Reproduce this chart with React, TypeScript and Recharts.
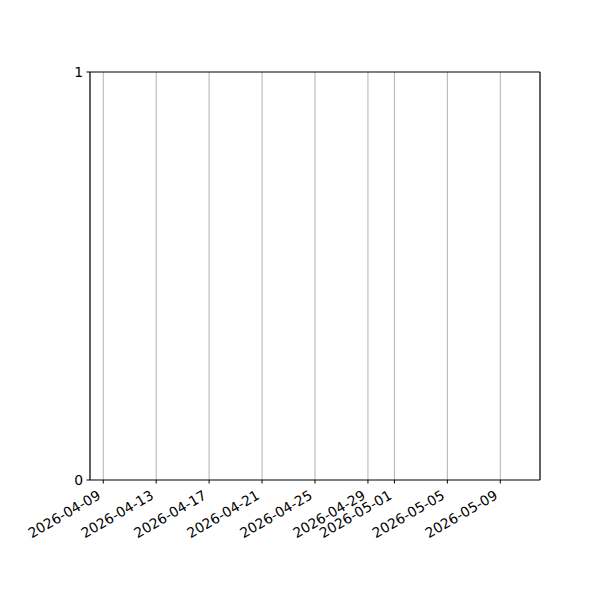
import React from "react";
import { LineChart, Line, XAxis, YAxis, CartesianGrid, ReferenceLine } from "recharts";

const domainStart = "2026-04-08";
const domainEnd = "2026-05-12";
const tickDates = [
  "2026-04-09",
  "2026-04-13",
  "2026-04-17",
  "2026-04-21",
  "2026-04-25",
  "2026-04-29",
  "2026-05-01",
  "2026-05-05",
  "2026-05-09",
];
const seriesValues: (number | null)[] = [null, null, null, null, null, null, null, null, null];
const yTicks = [0, 1];

const DAY = 86400000;
const toDay = (s: string) => {
  const [y, m, d] = s.split("-").map(Number);
  return Date.UTC(y, m - 1, d) / DAY;
};
const fromDay = (n: number) => {
  const dt = new Date(Math.round(n) * DAY);
  const mm = String(dt.getUTCMonth() + 1).padStart(2, "0");
  const dd = String(dt.getUTCDate()).padStart(2, "0");
  return `${dt.getUTCFullYear()}-${mm}-${dd}`;
};

const data = tickDates.map((d, i) => ({ x: toDay(d), value: seriesValues[i] }));
const xTicks = tickDates.map(toDay);
const xMin = toDay(domainStart);
const xMax = toDay(domainEnd);

const FONT = "DejaVu Sans";

const XTick = (props: any) => {
  const { x, y, payload } = props;
  const bx = x - 1.6;
  const by = y + 14.6;
  return (
    <text
      x={bx}
      y={by}
      textAnchor="end"
      fontFamily={FONT}
      fontSize={13.9}
      fill="#000"
      transform={`rotate(-30 ${bx} ${by})`}
    >
      {fromDay(payload.value)}
    </text>
  );
};

const YTick = (props: any) => {
  const { x, y, payload } = props;
  return (
    <text x={x - 3.5} y={y + 5} textAnchor="end" fontFamily={FONT} fontSize={13.9} fill="#000">
      {payload.value}
    </text>
  );
};

export default function App() {
  return (
    <div style={{ width: 600, height: 600, background: "#fff" }}>
      <style>{`body{margin:0}`}</style>
      <LineChart
        width={600}
        height={600}
        data={data}
        margin={{ top: 72, right: 60, bottom: 0, left: 0 }}
      >
        <CartesianGrid horizontal={false} vertical={true} stroke="#b0b0b0" strokeWidth={1} />
        <XAxis
          dataKey="x"
          type="number"
          domain={[xMin, xMax]}
          ticks={xTicks}
          interval={0}
          height={120}
          tickSize={3.5}
          tickMargin={0}
          tickLine={{ stroke: "#000", strokeWidth: 1 }}
          axisLine={{ stroke: "#000", strokeWidth: 1.1 }}
          tick={<XTick />}
          allowDataOverflow
        />
        <YAxis
          dataKey="value"
          type="number"
          domain={[0, 1]}
          ticks={yTicks}
          interval={0}
          width={90}
          tickSize={3.5}
          tickMargin={0}
          tickLine={{ stroke: "#000", strokeWidth: 1 }}
          axisLine={{ stroke: "#000", strokeWidth: 1.1 }}
          tick={<YTick />}
          allowDataOverflow
        />
        <ReferenceLine y={1} stroke="#000" strokeWidth={1.1} ifOverflow="visible" />
        <ReferenceLine x={xMax} stroke="#000" strokeWidth={1.1} ifOverflow="visible" />
        <Line dataKey="value" stroke="#1f77b4" dot={false} isAnimationActive={false} connectNulls={false} />
      </LineChart>
    </div>
  );
}
